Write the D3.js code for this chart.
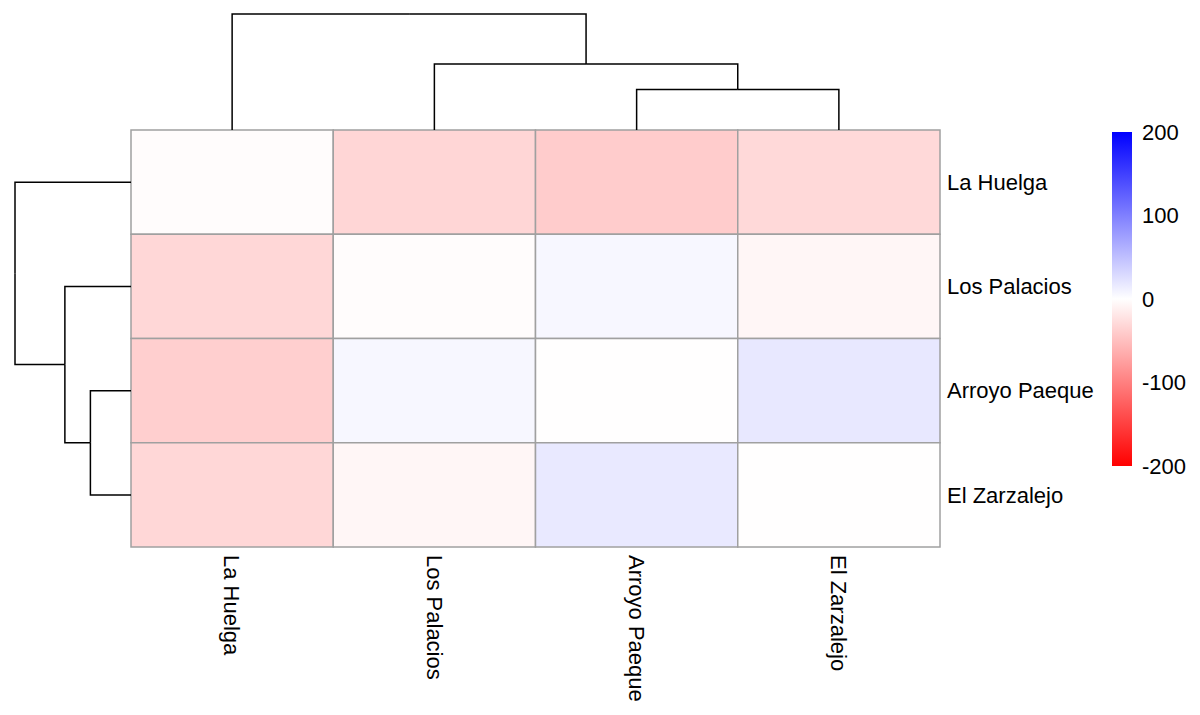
<!DOCTYPE html>
<html>
<head>
<meta charset="utf-8">
<script src="https://cdn.jsdelivr.net/npm/d3@7"></script>
<style>
  body { margin: 0; background: #fff; }
  text { font-family: "Liberation Sans", Arial, sans-serif; fill: #000; }
</style>
</head>
<body>
<div id="chart"></div>
<script>
'use strict'

var width = 1200
var height = 715

// order after clustering (same for rows and columns)
var sites = ['La Huelga', 'Los Palacios', 'Arroyo Paeque', 'El Zarzalejo']

// matrix values, row by row
var rowLaHuelga = [-2, -32, -40, -30]
var rowLosPalacios = [-31, -2, 6, -7]
var rowArroyoPaeque = [-38, 6, -1, 18]
var rowElZarzalejo = [-31, -7, 17, -1]
var values = [rowLaHuelga, rowLosPalacios, rowArroyoPaeque, rowElZarzalejo]

// legend
var legendTicks = [200, 100, 0, -100, -200]
var colorDomain = [-200, 0, 200]

// dendrogram merge heights (root = 1)
var tree = {
  h: 1.0,
  children: [
    { leaf: 0 },
    {
      h: 0.57,
      children: [
        { leaf: 1 },
        { h: 0.35, children: [{ leaf: 2 }, { leaf: 3 }] }
      ]
    }
  ]
}

var svg = d3.select('#chart').append('svg')
  .attr('width', width)
  .attr('height', height)

var gridLeft = 131
var gridRight = 940
var gridTop = 130
var gridBottom = 547

var x = d3.scaleBand().domain(d3.range(sites.length)).range([gridLeft, gridRight])
var y = d3.scaleBand().domain(d3.range(sites.length)).range([gridTop, gridBottom])
var color = d3.scaleLinear().domain(colorDomain).range(['#FF0000', '#FFFFFF', '#0000FF'])

// cells
var cells = []
values.forEach(function (row, i) {
  row.forEach(function (v, j) { cells.push({ r: i, c: j, v: v }) })
})

svg.append('g')
  .selectAll('rect')
  .data(cells)
  .join('rect')
  .attr('x', d => x(d.c))
  .attr('y', d => y(d.r))
  .attr('width', x.bandwidth())
  .attr('height', y.bandwidth())
  .attr('fill', d => color(d.v))
  .attr('stroke', '#A0A0A0')
  .attr('stroke-width', 1.5)

// dendrograms
var root = d3.hierarchy(tree)

function drawDendro (g, pos, hgt, vertical) {
  // pos: leaf index -> position along the axis; hgt: merge height -> offset
  function place (node) {
    if (!node.children) {
      node.p = pos(node.data.leaf)
      node.q = hgt(0)
      return
    }
    node.children.forEach(place)
    node.p = d3.mean(node.children, c => c.p)
    node.q = hgt(node.data.h)
  }
  place(root)
  var links = []
  root.each(function (n) {
    if (!n.children) return
    n.children.forEach(function (c) {
      links.push([[n.p, n.q], [c.p, n.q], [c.p, c.q]])
    })
  })
  var line = d3.line()
    .x(d => vertical ? d[0] : d[1])
    .y(d => vertical ? d[1] : d[0])
  g.selectAll('path')
    .data(links)
    .join('path')
    .attr('d', line)
    .attr('fill', 'none')
    .attr('stroke', '#000')
    .attr('stroke-width', 1.5)
}

var topHeight = d3.scaleLinear().domain([0, 1]).range([gridTop, 14])
var leftHeight = d3.scaleLinear().domain([0, 1]).range([gridLeft, 15])

drawDendro(svg.append('g'), i => x(i) + x.bandwidth() / 2, topHeight, true)
drawDendro(svg.append('g'), i => y(i) + y.bandwidth() / 2, leftHeight, false)

// row labels
svg.append('g')
  .selectAll('text')
  .data(sites)
  .join('text')
  .attr('x', gridRight + 7)
  .attr('y', (d, i) => y(i) + y.bandwidth() / 2)
  .attr('dy', '0.35em')
  .attr('font-size', 22)
  .text(d => d)

// column labels, rotated
svg.append('g')
  .selectAll('text')
  .data(sites)
  .join('text')
  .attr('transform', (d, i) => 'translate(' + (x(i) + x.bandwidth() / 2) + ',' + (gridBottom + 8) + ') rotate(90)')
  .attr('dy', '0.35em')
  .attr('font-size', 22)
  .text(d => d)

// legend
var legendY = d3.scaleLinear().domain([-200, 200]).range([466, 132])
var defs = svg.append('defs')
var grad = defs.append('linearGradient')
  .attr('id', 'legGrad')
  .attr('x1', 0).attr('y1', 1).attr('x2', 0).attr('y2', 0)
grad.selectAll('stop')
  .data(colorDomain)
  .join('stop')
  .attr('offset', (d, i) => i / (colorDomain.length - 1))
  .attr('stop-color', d => color(d))

svg.append('rect')
  .attr('x', 1112)
  .attr('y', legendY(200))
  .attr('width', 20)
  .attr('height', legendY(-200) - legendY(200))
  .attr('fill', 'url(#legGrad)')

svg.append('g')
  .selectAll('text')
  .data(legendTicks)
  .join('text')
  .attr('x', 1142)
  .attr('y', d => legendY(d))
  .attr('dy', '0.35em')
  .attr('font-size', 22)
  .text(d => d)
</script>
</body>
</html>
